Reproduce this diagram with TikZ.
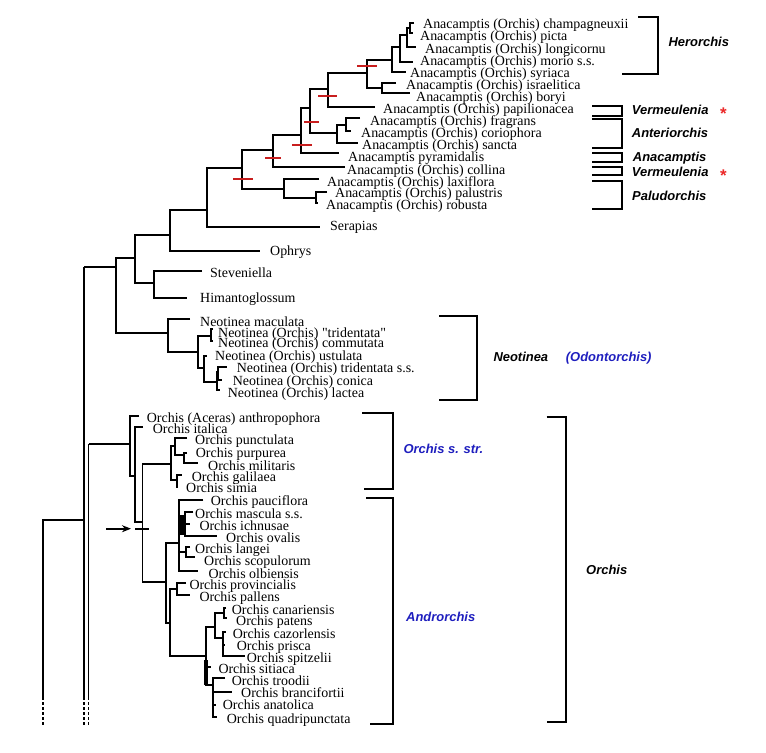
\documentclass[tikz,border=0pt]{standalone}
\usepackage{fontspec}
\setmainfont{Liberation Serif}
\newfontfamily\lsans{Liberation Sans}
\newfontfamily\qfont{Liberation Serif}
\usetikzlibrary{arrows.meta}
\definecolor{tickred}{RGB}{200,30,30}
\definecolor{starred}{RGB}{235,40,40}
\definecolor{cladeblue}{RGB}{30,30,190}
\tikzset{
  tree/.style={line width=1.8bp, line join=miter},
  thickbar/.style={line width=3.2bp},
  redtick/.style={draw=tickred, line width=2.2bp},
  brk/.style={line width=1.8bp, line join=miter},
  lab/.style={anchor=west, inner sep=0pt, font=\fontsize{14}{14}\selectfont, text height=10pt, text depth=3pt},
  grp/.style={anchor=west, inner sep=0pt, font=\lsans\bfseries\itshape\fontsize{13}{13}\selectfont, text height=9pt, text depth=3pt},
  bgrp/.style={grp, text=cladeblue},
  star/.style={inner sep=0pt, text=starred, font=\lsans\bfseries\fontsize{17}{17}\selectfont},
  dashend/.style={line width=1.8bp, dash pattern=on 3bp off 2bp}
}
\begin{document}
\begin{tikzpicture}[x=1bp,y=-1bp]
\useasboundingbox (0,0) rectangle (766,753);

% ---------- leaf labels ----------
\node[lab] (l1) at (423,25) {Anacamptis (Orchis) champagneuxii};
\node[lab] (l2) at (420,37) {Anacamptis (Orchis) picta};
\node[lab] (l3) at (425,50) {Anacamptis (Orchis) longicornu};
\node[lab] (l4) at (420,62) {Anacamptis (Orchis) morio s.s.};
\node[lab] (l5) at (410,74) {Anacamptis (Orchis) syriaca};
\node[lab] (l6) at (406,86) {Anacamptis (Orchis) israelitica};
\node[lab] (l7) at (416,98) {Anacamptis (Orchis) boryi};
\node[lab] (l8) at (383,110) {Anacamptis (Orchis) papilionacea};
\node[lab] (l9) at (370,122) {Anacamptis (Orchis) fragrans};
\node[lab] (l10) at (361,134) {Anacamptis (Orchis) coriophora};
\node[lab] (l11) at (362,146) {Anacamptis (Orchis) sancta};
\node[lab] (l12) at (348,158) {Anacamptis pyramidalis};
\node[lab] (l13) at (347,171) {Anacamptis (Orchis) collina};
\node[lab] (l14) at (327,183) {Anacamptis (Orchis) laxiflora};
\node[lab] (l15) at (335,194.5) {Anacamptis (Orchis) palustris};
\node[lab] (l16) at (326,206) {Anacamptis (Orchis) robusta};
\node[lab] (ser) at (330,227) {Serapias};
\node[lab] (oph) at (270,252) {Ophrys};
\node[lab] (ste) at (210,274) {Steveniella};
\node[lab] (him) at (200,299) {Himantoglossum};
\node[lab] (n1) at (200,323) {Neotinea maculata};
\node[lab] (n2) at (218,334.5) {Neotinea (Orchis) {\qfont"}tridentata{\qfont"}};
\node[lab] (n3) at (218,344.5) {Neotinea (Orchis) commutata};
\node[lab] (n4) at (215,357) {Neotinea (Orchis) ustulata};
\node[lab] (n5) at (236.7,369.5) {Neotinea (Orchis) tridentata s.s.};
\node[lab] (n6) at (232.7,382) {Neotinea (Orchis) conica};
\node[lab] (n7) at (227.7,394) {Neotinea (Orchis) lactea};
\node[lab] (o1) at (146.7,419) {Orchis (Aceras) anthropophora};
\node[lab] (o2) at (152.7,430) {Orchis italica};
\node[lab] (o3) at (195,441) {Orchis punctulata};
\node[lab] (o4) at (195.7,454) {Orchis purpurea};
\node[lab] (o5) at (208,467) {Orchis militaris};
\node[lab] (o6) at (191.7,478) {Orchis galilaea};
\node[lab] (o7) at (186,489) {Orchis simia};
\node[lab] (a1) at (210.7,502) {Orchis pauciflora};
\node[lab] (a2) at (195,515.5) {Orchis mascula s.s.};
\node[lab] (a3) at (199.3,527) {Orchis ichnusae};
\node[lab] (a4) at (226,539) {Orchis ovalis};
\node[lab] (a5) at (195,550) {Orchis langei};
\node[lab] (a6) at (204,562) {Orchis scopulorum};
\node[lab] (a7) at (208.3,575) {Orchis olbiensis};
\node[lab] (a8) at (189.3,586) {Orchis provincialis};
\node[lab] (a9) at (199.3,598) {Orchis pallens};
\node[lab] (a10) at (231.7,611) {Orchis canariensis};
\node[lab] (a11) at (236,622) {Orchis patens};
\node[lab] (a12) at (232.7,635.5) {Orchis cazorlensis};
\node[lab] (a13) at (236.7,647) {Orchis prisca};
\node[lab] (a14) at (246.7,659) {Orchis spitzelii};
\node[lab] (a15) at (218.3,670) {Orchis sitiaca};
\node[lab] (a16) at (231.7,682) {Orchis troodii};
\node[lab] (a17) at (241,694.5) {Orchis brancifortii};
\node[lab] (a18) at (222.7,706) {Orchis anatolica};
\node[lab] (a19) at (226.7,720) {Orchis quadripunctata};

% ---------- tree: Herorchis ----------
\draw[tree] (414,23.3) -- (410,23.3) -- (410,33.3) -- (413,33.3);
\draw[tree] (410,28) -- (406.7,28) -- (406.7,46.7) -- (416,46.7);
\draw[tree] (406.7,35) -- (400,35) -- (400,61.7) -- (412.7,61.7);
\draw[tree] (400,46.7) -- (391.7,46.7) -- (391.7,71.7) -- (406,71.7);
\draw[tree] (396,83.3) -- (381.7,83.3) -- (381.7,93.3) -- (410,93.3);
\draw[tree] (391.7,60) -- (367.3,60) -- (367.3,88.3) -- (381.7,88.3);
\draw[tree] (367.3,73.3) -- (328,73.3) -- (328,106.7) -- (375,106.7);
% Anteriorchis etc.
\draw[tree] (360,118.3) -- (346,118.3) -- (346,131) -- (351,131);
\draw[tree] (346,125) -- (337.3,125) -- (337.3,143.3) -- (358.3,143.3);
\draw[tree] (328,89.3) -- (310,89.3) -- (310,133.3) -- (337.3,133.3);
\draw[tree] (310,108) -- (300.7,108) -- (300.7,153.3) -- (339.3,153.3);
\draw[tree] (300.7,135) -- (273.3,135) -- (273.3,166.7) -- (345,166.7);
% Paludorchis
\draw[tree] (327,191.7) -- (316,191.7) -- (316,203) -- (318,203);
\draw[tree] (319,179.3) -- (284,179.3) -- (284,198.3) -- (316,198.3);
\draw[tree] (273.3,150) -- (242,150) -- (242,189.3) -- (284,189.3);
\draw[tree] (242,168) -- (207,168) -- (207,226.7) -- (320,226.7);
\draw[tree] (207,210) -- (170,210) -- (170,250.7) -- (260,250.7);
\draw[tree] (202,270.7) -- (154,270.7) -- (154,298) -- (187,298);
\draw[tree] (170,235) -- (135,235) -- (135,283) -- (154,283);
\draw[tree] (135,258) -- (116,258) -- (116,333.3) -- (168,333.3);
\draw[tree] (84,267) -- (116,267);
% Neotinea
\draw[tree] (190,319) -- (168,319) -- (168,351.7) -- (198,351.7);
\draw[tree] (211,336) -- (198,336) -- (198,368.3) -- (204,368.3);
\draw[tree] (213,329) -- (211,329) -- (211,341) -- (213,341);
\draw[tree] (206.7,356) -- (204,356) -- (204,381.7) -- (216.7,381.7);
\draw[tree] (218.3,371.7) -- (216.7,371.7) -- (216.7,390) -- (220,390);
\draw[tree] (226.7,366.7) -- (218.3,366.7) -- (218.3,380) -- (222,380);
% Orchis s. str.
\draw[tree] (88.5,444) -- (130,444);
\draw[tree] (139,415.7) -- (130,415.7) -- (130,476) -- (135,476);
\draw[tree] (143,426.7) -- (135,426.7) -- (135,521.7) -- (142.5,521.7);
\draw[tree] (171,464.3) -- (142.5,464.3) -- (142.5,582.3) -- (166,582.3);
\draw[tree] (175,446) -- (171,446) -- (171,480) -- (176.7,480);
\draw[tree] (187,438.3) -- (175,438.3) -- (175,455) -- (184,455);
\draw[tree] (187,453) -- (184,453) -- (184,463.3) -- (198,463.3);
\draw[tree] (181.7,475) -- (176.7,475) -- (176.7,486.7) -- (178,486.7);
% Androrchis
\draw[tree] (203.3,500) -- (179.3,500) -- (179.3,571) -- (198.3,571);
\draw[tree] (179.3,543.3) -- (166,543.3) -- (166,623.3) -- (170,623.3);
\draw[thickbar] (182,515) -- (182,535);
\draw[tree] (193.3,511.7) -- (185,511.7) -- (185,536) -- (216.7,536);
\draw[tree] (185,524.3) -- (190,524.3);
\draw[tree] (179.3,525) -- (185,525);
\draw[tree] (190,547) -- (186,547) -- (186,556.7) -- (195,556.7);
\draw[tree] (179.3,552) -- (186,552);
\draw[tree] (186,583.3) -- (176.7,583.3) -- (176.7,595) -- (190,595);
\draw[tree] (176.7,589) -- (170,589) -- (170,656) -- (206,656);
\draw[tree] (215,626.7) -- (206,626.7) -- (206,685) -- (213.3,685);
\draw[thickbar] (206,660) -- (206,685);
\draw[tree] (224,613.3) -- (215,613.3) -- (215,638.3) -- (222.7,638.3);
\draw[tree] (226,608.3) -- (224,608.3) -- (224,618.3) -- (226.7,618.3);
\draw[tree] (225.7,632.3) -- (222.7,632.3) -- (222.7,656) -- (245,656);
\draw[tree] (222.7,645) -- (225,645);
\draw[tree] (206,666.7) -- (211,666.7);
\draw[tree] (225,678.3) -- (213.3,678.3) -- (213.3,716.7) -- (216.7,716.7);
\draw[tree] (213.3,691.7) -- (231.7,691.7);
\draw[tree] (213.3,705) -- (216,705);

% root lines
\draw[tree] (84,267) -- (84,697);
\draw[tree] (88.5,444) -- (88.5,697);
\draw[tree] (84,520) -- (43.3,520) -- (43.3,697);
\draw[dashend] (43.3,697) -- (43.3,727);
\draw[dashend] (84,697) -- (84,727);
\draw[dashend] (88.5,697) -- (88.5,727);

% arrow and node mark
\coordinate (arrS) at (106,528.7);
\coordinate (arrE) at (131,528.7);
\draw[line width=2.4bp, -{Stealth[length=9bp,width=7bp]}] (arrS) -- (arrE);
\draw[tree] (135,528.7) -- (149.3,528.7);

% red ticks
\draw[redtick] (357,65.7) -- (376.7,65.7);
\draw[redtick] (318,96) -- (337,96);
\draw[redtick] (304,121.7) -- (319,121.7);
\draw[redtick] (292,145) -- (311.7,145);
\draw[redtick] (265,158) -- (280.7,158);
\draw[redtick] (233,179.3) -- (252.7,179.3);

% ---------- brackets and group labels ----------
\draw[brk] (638,17.3) -- (658.3,17.3) -- (658.3,74.3) -- (622,74.3);
\node[grp] (gHer) at (668.3,43.2) {Herorchis};
\draw[brk] (592.3,105.7) -- (622.3,105.7) -- (622.3,116) -- (592.3,116);
\node[grp] (gVer1) at (631.7,111.5) {Vermeulenia};
\node[star] (s1) at (723.3,113.5) {*};
\draw[brk] (592.3,119.3) -- (622.3,119.3) -- (622.3,147.7) -- (592.3,147.7);
\node[grp] (gAnt) at (631.7,134.2) {Anteriorchis};
\draw[brk] (592.3,152.7) -- (622.3,152.7) -- (622.3,161.7) -- (592.3,161.7);
\node[grp] (gAna) at (632.7,158.8) {Anacamptis};
\draw[brk] (592.3,166.7) -- (622.3,166.7) -- (622.3,175) -- (592.3,175);
\node[grp] (gVer2) at (631.7,173.2) {Vermeulenia};
\node[star] (s2) at (723.3,176) {*};
\draw[brk] (592.3,180.7) -- (622.3,180.7) -- (622.3,209.3) -- (592.3,209.3);
\node[grp] (gPal) at (632,197.2) {Paludorchis};

\draw[brk] (439.3,315.7) -- (477.3,315.7) -- (477.3,400) -- (439.3,400);
\node[grp] (gNeo) at (493.3,358.8) {Neotinea};
\node[bgrp] (gOdo) at (565.7,358.8) {(Odontorchis)};

\draw[brk] (362.3,412.7) -- (392.7,412.7) -- (392.7,489.3) -- (364.3,489.3);
\node[bgrp] (gOss) at (403.3,450.8) {Orchis s. str.};
\draw[brk] (366,497.7) -- (393.3,497.7) -- (393.3,724.3) -- (370,724.3);
\node[bgrp] (gAndr) at (406,618.8) {Androrchis};
\draw[brk] (546.7,416.7) -- (566,416.7) -- (566,722.3) -- (546.7,722.3);
\node[grp] (gOrc) at (586,571.5) {Orchis};
\end{tikzpicture}
\end{document}
